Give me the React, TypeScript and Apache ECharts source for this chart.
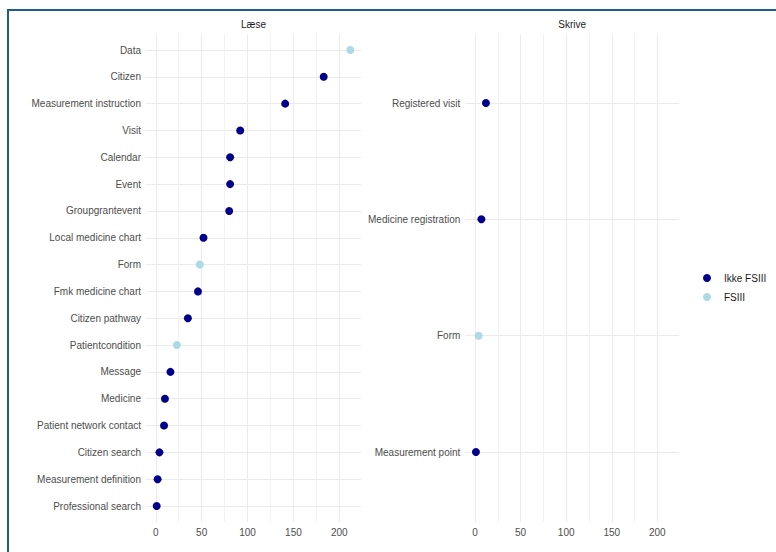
import React, { useEffect, useRef } from "react";
import * as echarts from "echarts";

const laeseCategories = [
  "Data",
  "Citizen",
  "Measurement instruction",
  "Visit",
  "Calendar",
  "Event",
  "Groupgrantevent",
  "Local medicine chart",
  "Form",
  "Fmk medicine chart",
  "Citizen pathway",
  "Patientcondition",
  "Message",
  "Medicine",
  "Patient network contact",
  "Citizen search",
  "Measurement definition",
  "Professional search",
];
const laeseValues = [212, 183, 141, 92, 81, 81, 80, 52, 48, 46, 35, 23, 16, 10, 9, 4, 2, 1];
const laeseFSIII = [true, false, false, false, false, false, false, false, true, false, false, true, false, false, false, false, false, false];

const skriveCategories = ["Registered visit", "Medicine registration", "Form", "Measurement point"];
const skriveValues = [12, 7, 4, 1];
const skriveFSIII = [false, false, true, false];

const panelTitles = ["Læse", "Skrive"];
const legendNames = ["Ikke FSIII", "FSIII"];
const majorTicks = [0, 50, 100, 150, 200];
const minorTicks = [25, 75, 125, 175];
const xMin = -10.65;
const xMax = 223.65;

const FONT = "'Liberation Sans', Arial, Helvetica, sans-serif";
const DARK = "#00008B";
const LIGHT = "#ADD8E6";

function split(cats: string[], vals: number[], flags: boolean[], fs: boolean) {
  const out: any[] = [];
  cats.forEach((c, i) => {
    if (flags[i] === fs) out.push([vals[i], c]);
  });
  return out;
}

export default function App() {
  const ref = useRef<HTMLDivElement>(null);
  useEffect(() => {
    if (!ref.current) return;
    const chart = echarts.init(ref.current, undefined, { renderer: "svg" });
    const panels = [
      { cats: laeseCategories, vals: laeseValues, flags: laeseFSIII, left: 146, width: 215, fgTop: 50, fgHeight: 456 },
      { cats: skriveCategories, vals: skriveValues, flags: skriveFSIII, left: 465.3, width: 213.6, fgTop: 103, fgHeight: 349 },
    ];
    const grids: any[] = [];
    const xAxes: any[] = [];
    const yAxes: any[] = [];
    const series: any[] = [];
    const graphics: any[] = [];
    panels.forEach((p, k) => {
      const bg = grids.length;
      grids.push({ left: p.left, width: p.width, top: 34, height: 488 });
      const fg = grids.length;
      grids.push({ left: p.left, width: p.width, top: p.fgTop, height: p.fgHeight });
      xAxes.push({
        gridIndex: bg,
        type: "value",
        min: xMin,
        max: xMax,
        axisLine: { show: false },
        axisTick: { show: false },
        splitLine: { show: false },
        axisLabel: {
          customValues: majorTicks,
          color: "#4d4d4d",
          fontSize: 10,
          fontFamily: FONT,
          margin: 5,
        },
      });
      xAxes.push({ gridIndex: fg, type: "value", min: xMin, max: xMax, show: false, splitLine: { show: false } });
      yAxes.push({ gridIndex: bg, type: "value", show: false, min: 0, max: 1, splitLine: { show: false } });
      yAxes.push({
        gridIndex: fg,
        type: "category",
        data: p.cats,
        inverse: true,
        boundaryGap: false,
        axisLine: { show: false },
        axisTick: { show: false },
        splitLine: { show: true, lineStyle: { color: "#ebebeb", width: 1 } },
        axisLabel: { color: "#4d4d4d", fontSize: 10, fontFamily: FONT, margin: 5 },
      });
      series.push({
        name: "grid" + k,
        type: "scatter",
        xAxisIndex: bg,
        yAxisIndex: bg,
        data: [],
        silent: true,
        z: 1,
        markLine: {
          silent: true,
          symbol: "none",
          animation: false,
          z: 1,
          label: { show: false },
          data: [
            ...minorTicks.map((v) => ({ xAxis: v, lineStyle: { color: "#f2f2f2", width: 1, type: "solid" } })),
            ...majorTicks.map((v) => ({ xAxis: v, lineStyle: { color: "#ebebeb", width: 1, type: "solid" } })),
          ],
        },
      });
      series.push({
        name: legendNames[0],
        type: "scatter",
        xAxisIndex: fg,
        yAxisIndex: fg,
        symbolSize: 8,
        itemStyle: { color: DARK, opacity: 1 },
        data: split(p.cats, p.vals, p.flags, false),
        z: 5,
      });
      series.push({
        name: legendNames[1],
        type: "scatter",
        xAxisIndex: fg,
        yAxisIndex: fg,
        symbolSize: 8,
        itemStyle: { color: LIGHT, opacity: 1 },
        data: split(p.cats, p.vals, p.flags, true),
        z: 5,
      });
      graphics.push({
        type: "text",
        x: p.left + p.width / 2,
        y: 24,
        style: {
          text: panelTitles[k],
          textAlign: "center",
          textVerticalAlign: "middle",
          fontSize: 10,
          fontFamily: FONT,
          fill: "#1a1a1a",
        },
      });
    });
    chart.setOption({
      animation: false,
      backgroundColor: "transparent",
      legend: {
        data: legendNames,
        orient: "vertical",
        left: 698,
        top: 268,
        icon: "circle",
        itemWidth: 8,
        itemHeight: 8,
        itemGap: 9,
        textStyle: { fontSize: 10, color: "#1a1a1a", fontFamily: FONT, padding: [0, 0, 0, 8] },
      },
      grid: grids,
      xAxis: xAxes,
      yAxis: yAxes,
      series,
      graphic: graphics,
    });
    return () => chart.dispose();
  }, []);
  return (
    <div style={{ position: "fixed", left: 0, top: 0, width: 776, height: 552, overflow: "hidden", background: "#fff" }}>
      <div
        style={{
          position: "absolute",
          left: 7,
          top: 9,
          width: 900,
          height: 700,
          border: "2px solid #205e85",
          boxSizing: "border-box",
        }}
      />
      <div ref={ref} style={{ position: "absolute", left: 0, top: 0, width: 776, height: 552 }} />
    </div>
  );
}
